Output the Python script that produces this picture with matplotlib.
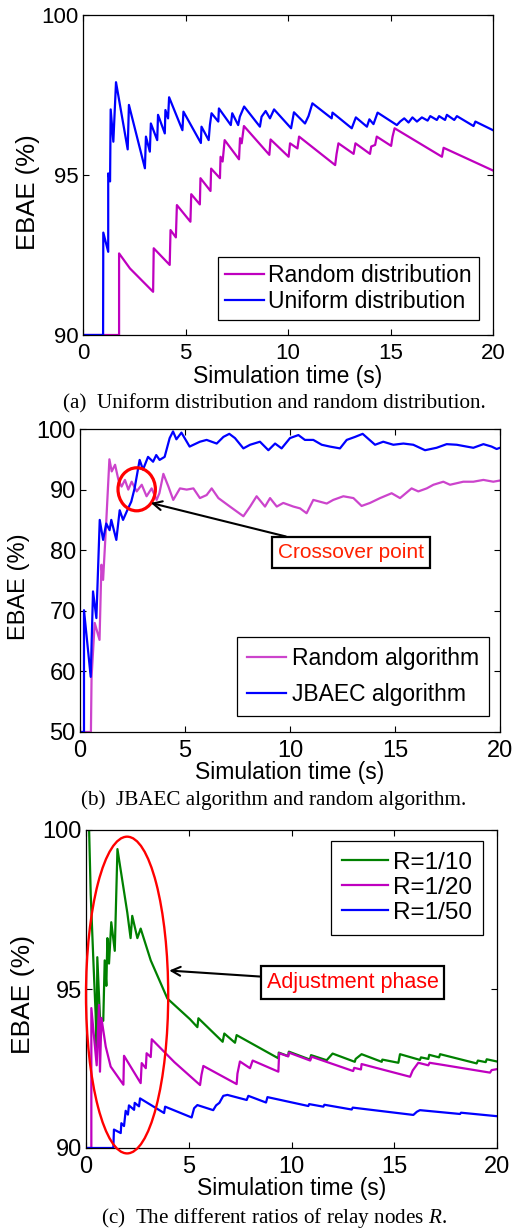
import matplotlib
matplotlib.use("Agg")
import matplotlib.pyplot as plt
from matplotlib.patches import Ellipse

plt.rcParams['font.family'] = ['Liberation Sans', 'DejaVu Sans']
plt.rcParams['mathtext.fontset'] = 'custom'
plt.rcParams['mathtext.rm'] = 'Liberation Serif'
plt.rcParams['mathtext.it'] = 'Liberation Serif:italic'

# ---------------- data: panel (a) ----------------
a_uniform_t = [0, 0.98, 0.99, 1.23, 1.23, 1.32, 1.35, 1.48, 1.61, 2.18, 2.24, 3.02, 3.07, 3.26, 3.31,
               3.62, 3.66, 3.99, 4.02, 4.15, 4.20, 4.85, 4.90, 5.75, 5.78, 6.13, 6.19, 6.27, 6.60, 6.63,
               7.21, 7.28, 7.57, 7.65, 7.86, 8.63, 8.71, 8.91, 9.12, 9.32, 10.15, 10.29, 10.83, 11.00,
               11.19, 12.13, 12.17, 13.11, 13.31, 13.85, 13.97, 14.17, 14.37, 15.31, 15.47, 15.67, 15.88,
               16.07, 16.29, 16.53, 16.81, 16.94, 17.26, 17.37, 17.66, 17.75, 18.11, 18.24, 19.05, 19.14, 20.0]
a_uniform_v = [90, 90, 93.2, 92.6, 95.05, 94.8, 97.05, 96.04, 97.9, 95.8, 97.19, 95.21, 96.2, 95.73, 96.61,
               96.09, 96.88, 96.3, 97.03, 96.77, 97.43, 96.4, 96.98, 96.0, 96.51, 96.09, 96.56, 96.93, 96.67,
               97.08, 96.56, 96.93, 96.56, 96.82, 97.14, 96.51, 96.82, 97.0, 96.77, 97.05, 96.46, 96.96,
               96.61, 96.84, 97.24, 96.77, 96.95, 96.46, 96.8, 96.51, 96.74, 96.59, 96.95, 96.56, 96.67,
               96.77, 96.64, 96.8, 96.67, 96.8, 96.7, 96.84, 96.72, 96.84, 96.72, 96.88, 96.72, 96.84,
               96.53, 96.67, 96.4]
a_random_t = [0, 1.76, 1.76, 2.29, 3.42, 3.45, 4.23, 4.27, 4.53, 4.58, 5.24, 5.28, 5.70, 5.73, 6.22, 6.25,
              6.68, 6.71, 6.81, 6.91, 7.61, 7.66, 7.74, 7.85, 9.09, 9.15, 10.03, 10.10, 10.46, 10.54, 12.30,
              12.37, 12.46, 13.20, 13.29, 14.00, 14.06, 14.25, 14.33, 15.03, 15.10, 15.20, 17.51, 17.59, 20.0]
a_random_v = [90, 90, 92.55, 92.08, 91.35, 92.71, 92.19, 93.28, 93.05, 94.06, 93.54, 94.4, 94.08, 94.9,
              94.5, 95.2, 94.9, 95.57, 95.42, 96.09, 95.49, 96.15, 95.99, 96.53, 95.63, 96.11, 95.57, 95.99,
              95.83, 96.2, 95.31, 95.66, 95.99, 95.66, 95.99, 95.66, 95.89, 95.94, 96.2, 95.91, 96.2, 96.46,
              95.57, 95.85, 95.14]

# ---------------- data: panel (b) ----------------
b_jbaec_t = [0, 0.19, 0.19, 0.51, 0.62, 0.78, 0.94, 1.10, 1.25, 1.41, 1.49, 1.73, 1.89, 2.05, 2.29, 2.44,
             2.60, 2.84, 3.00, 3.24, 3.48, 3.63, 3.79, 4.03, 4.27, 4.43, 4.59, 4.83, 5.22, 5.71, 6.03, 6.51,
             6.83, 7.11, 7.38, 7.78, 8.10, 8.57, 8.97, 9.29, 9.60, 10.00, 10.40, 10.71, 11.11, 11.51, 11.90,
             12.38, 12.70, 13.10, 13.46, 14.05, 14.44, 14.92, 15.40, 15.87, 16.43, 16.98, 17.46, 17.94,
             18.41, 18.73, 19.21, 19.60, 19.84, 20.0]
b_jbaec_v = [50, 50, 70.1, 59.1, 73.2, 68.8, 85.0, 81.7, 84.4, 83.3, 85.0, 81.7, 86.6, 85.0, 86.9, 88.0,
             90.2, 94.9, 93.3, 95.4, 94.6, 95.7, 94.9, 95.4, 98.5, 99.6, 98.3, 99.4, 97.1, 97.9, 98.2, 97.6,
             98.7, 99.2, 98.5, 96.8, 97.4, 97.9, 96.5, 97.6, 96.8, 98.5, 99.0, 98.2, 98.2, 97.4, 97.1, 96.8,
             98.2, 98.7, 99.2, 97.4, 97.9, 97.4, 97.6, 97.4, 96.5, 96.9, 97.5, 97.4, 97.1, 96.9, 97.5, 97.1,
             96.7, 96.9]
b_random_t = [0, 0.52, 0.55, 0.70, 0.93, 1.02, 1.10, 1.25, 1.40, 1.51, 1.67, 1.83, 1.98, 2.14, 2.30, 2.46,
              2.70, 2.94, 3.17, 3.41, 3.65, 3.78, 3.97, 4.21, 4.44, 4.76, 5.08, 5.40, 5.71, 6.03, 6.27, 6.59,
              7.14, 7.78, 8.10, 8.41, 8.81, 9.05, 9.37, 9.68, 10.16, 10.48, 10.79, 11.11, 11.43, 11.75, 12.06,
              12.54, 13.02, 13.41, 13.81, 14.29, 14.84, 15.24, 15.79, 16.11, 16.51, 16.83, 17.30, 17.62,
              18.25, 18.73, 19.21, 19.68, 20.0]
b_random_v = [50, 50, 59.0, 68.0, 65.2, 77.6, 75.1, 84.7, 95.0, 93.0, 94.1, 91.6, 90.5, 91.6, 90.0, 91.3,
              89.7, 90.8, 88.9, 90.2, 88.3, 89.4, 92.6, 90.5, 88.3, 90.2, 90.0, 90.2, 88.6, 89.1, 90.2, 88.6,
              87.2, 85.6, 87.2, 88.9, 87.2, 88.6, 87.2, 87.8, 87.2, 86.9, 86.1, 88.3, 88.0, 87.7, 88.3, 88.9,
              88.6, 87.3, 87.8, 88.6, 89.4, 88.6, 90.2, 89.7, 90.2, 90.8, 91.3, 90.8, 91.3, 91.3, 91.6, 91.3,
              91.5]

# ---------------- data: panel (c) ----------------
c_r10_t = [0.14, 0.23, 0.36, 0.47, 0.52, 0.55, 0.68, 0.84, 0.91, 0.99, 1.04, 1.12, 1.23, 1.40, 1.53, 2.01,
           2.17, 2.25, 2.50, 2.66, 3.15, 3.96, 5.06, 5.42, 5.47, 6.65, 6.73, 7.25, 7.33, 9.36, 9.38, 9.84,
           9.87, 10.90, 10.95, 11.71, 12.00, 13.08, 13.12, 13.41, 14.39, 14.42, 15.20, 15.28, 16.25, 16.30,
           16.66, 16.70, 17.18, 17.23, 19.01, 19.07, 19.45, 19.50, 20.0]
c_r10_v = [100.3, 97.97, 95.87, 94.2, 93.1, 96.0, 94.1, 94.0, 95.9, 95.1, 96.6, 95.8, 97.1, 96.2, 99.4, 97.4,
           96.6, 97.3, 96.6, 96.9, 95.9, 94.7, 94.05, 93.8, 94.08, 93.34, 93.6, 93.31, 93.55, 92.82, 93.0,
           92.89, 93.03, 92.78, 92.92, 92.76, 92.97, 92.71, 92.8, 92.95, 92.71, 92.78, 92.68, 92.95, 92.77,
           92.85, 92.8, 92.93, 92.85, 92.95, 92.66, 92.75, 92.7, 92.79, 92.72]
c_r20_t = [0, 0.26, 0.26, 0.52, 0.63, 0.68, 0.75, 0.96, 1.20, 1.82, 1.85, 2.66, 2.71, 2.91, 2.95, 3.15, 3.20,
           4.30, 5.55, 5.62, 5.71, 7.33, 7.37, 7.49, 7.98, 8.11, 9.36, 9.40, 9.84, 9.87, 10.91, 10.98, 13.00,
           13.05, 13.38, 13.41, 15.77, 15.90, 16.17, 16.66, 16.72, 17.30, 19.66, 19.74, 20.0]
c_r20_v = [90, 90, 94.4, 92.6, 94.5, 92.4, 94.09, 93.19, 92.56, 91.99, 92.9, 92.04, 92.67, 92.51, 92.98,
           92.86, 93.42, 92.7, 91.98, 92.3, 92.58, 92.01, 92.34, 92.72, 92.51, 92.75, 92.40, 92.98, 92.88,
           93.0, 92.75, 92.87, 92.42, 92.52, 92.47, 92.64, 92.24, 92.44, 92.68, 92.6, 92.68, 92.62, 92.37,
           92.45, 92.48]
c_r50_t = [0, 1.33, 1.36, 1.69, 1.72, 1.85, 1.93, 2.04, 2.09, 2.34, 2.37, 2.58, 2.63, 3.80, 3.85, 5.14, 5.26,
           5.42, 6.19, 6.33, 6.49, 6.68, 6.88, 7.82, 7.90, 8.76, 8.83, 10.82, 10.86, 11.55, 11.60, 12.93,
           12.98, 15.93, 16.10, 16.25, 18.20, 18.25, 20.0]
c_r50_v = [90, 90, 90.58, 90.47, 90.78, 90.69, 91.17, 91.05, 91.34, 91.2, 91.42, 91.31, 91.56, 91.1, 91.3,
           90.96, 91.25, 91.35, 91.19, 91.34, 91.42, 91.64, 91.67, 91.51, 91.64, 91.43, 91.6, 91.32, 91.38,
           91.3, 91.36, 91.21, 91.27, 91.04, 91.14, 91.19, 91.07, 91.11, 91.0]

x_ticks = [0, 5, 10, 15, 20]
a_yticks = [90, 95, 100]
b_yticks = [50, 60, 70, 80, 90, 100]
c_yticks = [90, 95, 100]

a_labels = ['Random distribution', 'Uniform distribution']
b_labels = ['Random algorithm', 'JBAEC algorithm']
c_labels = ['R=1/10', 'R=1/20', 'R=1/50']
captions = ['(a)  Uniform distribution and random distribution.',
            '(b)  JBAEC algorithm and random algorithm.',
            '(c)  The different ratios of relay nodes $R$.']
xlabel = 'Simulation time (s)'
ylabel = 'EBAE (%)'

MAG = '#BF00BF'
MAG_B = '#CC44CC'
BLUE = '#0000FF'
GREEN = '#008000'

W, H = 519, 1231
fig = plt.figure(figsize=(W / 100, H / 100), dpi=100)


def make_ax(left, right, top, bottom):
    return fig.add_axes([left / W, 1 - bottom / H, (right - left) / W, (bottom - top) / H])


def style(ax, yticks, ylim, lab_x, lab_y, xlab_y, ax_px, tick_fs, ylab_fs):
    left, right, top, bottom = ax_px
    ax.set_xlim(0, 20)
    ax.set_ylim(*ylim)
    ax.set_xticks(x_ticks)
    ax.set_yticks(yticks)
    ax.tick_params(direction='in', length=4, width=0.8, top=True, right=True, labelsize=tick_fs)
    ax.tick_params(axis='x', pad=6)
    ax.tick_params(axis='y', pad=3)
    for s in ax.spines.values():
        s.set_linewidth(0.9)
    ax.set_xlabel(xlabel, fontsize=16.5)
    ax.xaxis.set_label_coords(0.5, -(xlab_y - bottom) / (bottom - top))
    ax.xaxis.label.set_va('center')
    ax.set_ylabel(ylabel, fontsize=ylab_fs, va='center')
    ax.yaxis.set_label_coords((lab_x - left) / (right - left), 1 - (lab_y - top) / (bottom - top))


# ---- panel (a) ----
pa = (83, 493, 15, 335)
ax1 = make_ax(*pa)
ax1.plot(a_random_t, a_random_v, color=MAG, lw=1.6, label=a_labels[0])
ax1.plot(a_uniform_t, a_uniform_v, color=BLUE, lw=1.6, label=a_labels[1])
style(ax1, a_yticks, (90, 100), 28, 192, 376, pa, 16, 18.5)
leg = ax1.legend(loc='upper left', bbox_to_anchor=((218 - 83) / 410, 1 - (257 - 15) / 320),
                 borderaxespad=0, fontsize=16.5, handlelength=1.7, handletextpad=0.2,
                 labelspacing=0.15, borderpad=0.3, fancybox=False, edgecolor='black', framealpha=1)
leg.get_frame().set_linewidth(0.9)

# ---- panel (b) ----
pb = (80, 500, 429, 732)
ax2 = make_ax(*pb)
ax2.plot(b_random_t, b_random_v, color=MAG_B, lw=1.6, label=b_labels[0])
ax2.plot(b_jbaec_t, b_jbaec_v, color=BLUE, lw=1.6, label=b_labels[1])
style(ax2, b_yticks, (50, 100), 19, 587, 772, pb, 17, 17)
leg = ax2.legend(loc='upper left', bbox_to_anchor=((236.7 - 80) / 420, 1 - (637 - 429) / 303),
                 borderaxespad=0, fontsize=16.5, handlelength=1.7, handletextpad=0.25,
                 labelspacing=0.55, borderpad=0.45, fancybox=False, edgecolor='black', framealpha=1)
leg.get_frame().set_linewidth(0.9)
ax2.add_patch(Ellipse((2.70, 90.05), 1.78, 7.1, fill=False, ec='#FF0000', lw=2.3, zorder=5))
ax2.annotate('Crossover point', xy=(3.37, 87.8), xytext=(12.9, 79.6), color='#FF2000', fontsize=15,
             ha='center', va='center',
             bbox=dict(boxstyle='square,pad=0.28', fc='white', ec='black', lw=1.6),
             arrowprops=dict(arrowstyle='->', color='black', lw=1.5, shrinkA=0, shrinkB=0,
                             mutation_scale=16), zorder=6)

# ---- panel (c) ----
pc = (86, 497, 830, 1148)
ax3 = make_ax(*pc)
ax3.plot(c_r10_t, c_r10_v, color=GREEN, lw=1.6, label=c_labels[0])
ax3.plot(c_r20_t, c_r20_v, color=MAG, lw=1.6, label=c_labels[1])
ax3.plot(c_r50_t, c_r50_v, color=BLUE, lw=1.6, label=c_labels[2])
style(ax3, c_yticks, (90, 100), 23, 995, 1188, pc, 17, 19)
leg = ax3.legend(loc='upper left', bbox_to_anchor=((330.7 - 86) / 411, 1 - (841 - 830) / 318),
                 borderaxespad=0, fontsize=17.5, handlelength=1.9, handletextpad=0.2,
                 labelspacing=0.12, borderpad=0.45, fancybox=False, edgecolor='black', framealpha=1)
leg.get_frame().set_linewidth(0.9)
ax3.add_patch(Ellipse((2.0, 94.81), 4.0, 9.96, fill=False, ec='#FF0000', lw=1.7, zorder=5,
                      clip_on=False))
ax3.annotate('Adjustment phase', xy=(4.05, 95.58), xytext=(12.97, 95.2), color='#FF0000', fontsize=15.5,
             ha='center', va='center',
             bbox=dict(boxstyle='square,pad=0.28', fc='white', ec='black', lw=1.6),
             arrowprops=dict(arrowstyle='->', color='black', lw=1.5, shrinkA=0, shrinkB=0,
                             mutation_scale=16), zorder=6)

# ---- captions ----
for cap, yc in zip(captions, [404, 800, 1218]):
    fig.text(274 / W, 1 - yc / H, cap, ha='center', va='center', fontsize=15.2,
             family=['Liberation Serif', 'DejaVu Serif'])

fig.savefig('out.png', dpi=100)
